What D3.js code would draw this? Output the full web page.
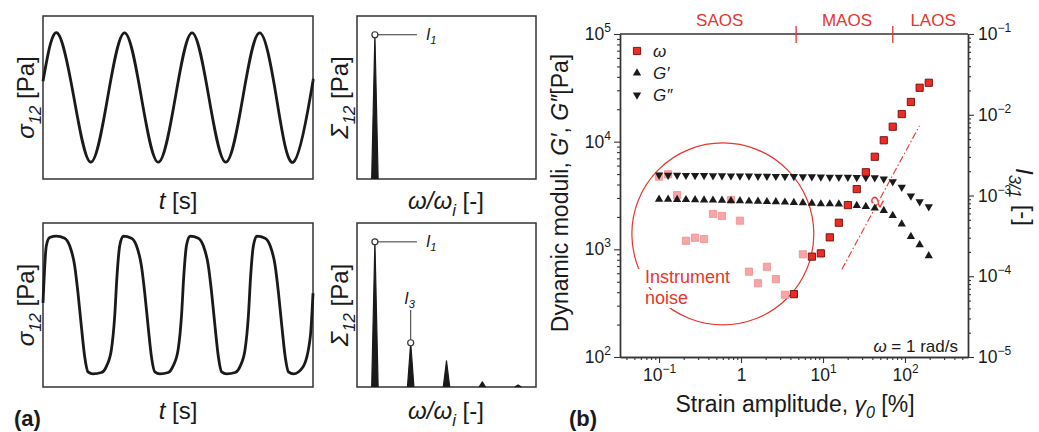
<!DOCTYPE html>
<html>
<head>
<meta charset="utf-8">
<script src="https://cdn.jsdelivr.net/npm/d3@7"></script>
<style>
  body { margin: 0; background: #fff; }
  svg { display: block; font-family: "Liberation Sans", Arial, Helvetica, sans-serif; }
</style>
</head>
<body>
<svg id="fig" width="1039" height="432"></svg>
<script>
// ---------- panel (a) data ----------
// stress signals, t in cycles, sigma normalised to the amplitude
const linWave = [
  [0, 0.25], [0.21, 1], [0.4625, 0], [0.715, -1], [0.9675, 0], [1.22, 1], [1.4725, 0], [1.725, -1],
  [1.98, 0], [2.23, 1], [2.4825, 0], [2.735, -1], [2.99, 0], [3.24, 1], [3.4925, 0], [3.745, -1],
  [3.9975, 0], [4.04, 0.26]
];
const nlWave = [
  [0, 0.03], [0.05, 0.86], [0.1, 0.98],
  [0.2, 1], [0.324, 0.97], [0.399, 0.86], [0.474, 0.57], [0.523, 0.18], [0.574, -0.31], [0.624, -0.75],
  [0.673, -0.97], [0.748, -1], [0.874, -0.98], [0.949, -0.89], [1.023, -0.65], [1.073, -0.16], [1.107, 0.42], [1.148, 0.86],
  [1.2, 1], [1.324, 0.97], [1.399, 0.86], [1.474, 0.56], [1.523, 0.17], [1.574, -0.32], [1.624, -0.76],
  [1.673, -0.97], [1.748, -1], [1.874, -0.98], [1.949, -0.88], [2.023, -0.64], [2.073, -0.15], [2.107, 0.43], [2.148, 0.87],
  [2.2, 1], [2.324, 0.97], [2.399, 0.86], [2.474, 0.57], [2.523, 0.18], [2.574, -0.31], [2.624, -0.75],
  [2.673, -0.97], [2.748, -1], [2.874, -0.98], [2.949, -0.89], [3.023, -0.65], [3.073, -0.16], [3.107, 0.42], [3.148, 0.86],
  [3.2, 1], [3.324, 0.97], [3.399, 0.86], [3.474, 0.57], [3.523, 0.18], [3.574, -0.31], [3.624, -0.75],
  [3.673, -0.97], [3.748, -1], [3.89, -0.9], [4.0, -0.46], [4.04, 0.17]
];
// Fourier spectra: harmonic order and relative intensity
const harmonicsLin = [1];
const intensityLin = [1.0];
const harmonicsNl = [1, 3, 5, 7, 9];
const intensityNl = [1.0, 0.305, 0.18, 0.035, 0.014];

// ---------- panel (b) data ----------
const strain = [0.1, 0.129, 0.166, 0.213, 0.275, 0.354, 0.455, 0.586, 0.754, 0.97, 1.25, 1.61, 2.07, 2.66, 3.43,
  4.41, 5.68, 7.31, 9.41, 12.1, 15.6, 20.1, 25.8, 33.3, 42.8, 55.1, 70.9, 91.3, 118, 151, 195];
const gPrime = [2920, 2910, 2900, 2890, 2880, 2870, 2860, 2850, 2830, 2820, 2800, 2790, 2770, 2760, 2740,
  2720, 2700, 2670, 2640, 2640, 2630, 2570, 2545, 2490, 2410, 2290, 2055, 1720, 1313, 1099, 869];
const gDouble = [4900, 4890, 4880, 4870, 4860, 4850, 4840, 4830, 4820, 4810, 4800, 4790, 4780, 4770, 4760,
  4750, 4740, 4720, 4700, 4690, 4680, 4670, 4660, 4650, 4620, 4510, 4255, 3775, 3135, 2775, 2490];
const i31 = [1.71e-3, 1.83e-3, 1.01e-3, 2.75e-4, 3.0e-4, 2.89e-4, 5.9e-4, 5.57e-4, 8.8e-4, 4.88e-4, 1.14e-4, 8.2e-5,
  1.31e-4, 9.2e-5, 5.9e-5, 6.0e-5, 1.87e-4, 1.75e-4, 1.92e-4, 3.03e-4, 4.6e-4, 7.6e-4, 1.2e-3, 1.94e-3,
  3.02e-3, 4.83e-3, 7.11e-3, 1.02e-2, 1.44e-2, 2.16e-2, 2.49e-2];
const i31Noise = [1, 1, 1, 1, 1, 1, 1, 1, 1, 1, 1, 1, 1, 1, 1, 0, 1, 0, 0, 0, 0, 0, 0, 0, 0, 0, 0, 0, 0, 0, 0];
const regionBounds = [4.7, 71];
const regionNames = ['SAOS', 'MAOS', 'LAOS'];
const regionLabelAt = [0.55, 19.6, 220];
const slopeLine = [[17, 1.22e-4], [150, 7.3e-3]];
const slopeLabelAt = [45.6, 8.4e-4];
const noiseCenter = [0.6, 1390];

// ---------- drawing ----------
const svg = d3.select('#fig');
const ink = '#1a1a1a';
const red = '#e8352e';

// text with italic / sub / superscript parts
function rich(sel, fs, parts) {
  let cur = 0;
  for (const p of parts) {
    const off = p.sub ? 0.28 * fs : p.sup ? -0.42 * fs : 0;
    const ts = sel.append('tspan').attr('dy', off - cur).text(p.t);
    cur = off;
    if (p.sub || p.sup) ts.attr('font-size', fs * 0.7);
    if (p.it) ts.attr('font-style', 'italic');
  }
  return sel;
}

// ===== panel (a) =====
const waveX = d3.scaleLinear().domain([0, 4.04]).range([43, 313]);
const specX = d3.scaleLinear().domain([0, 10]).range([357, 536]);

const rows = [
  { top: 16, bottom: 179, wave: linWave, yMax: 1.26, curve: d3.curveNatural, harm: harmonicsLin, amp: intensityLin, labelY: 209 },
  { top: 223, bottom: 387, wave: nlWave, yMax: 1.19, curve: d3.curveMonotoneX, harm: harmonicsNl, amp: intensityNl, labelY: 419 },
];

rows.forEach((row, k) => {
  const g = svg.append('g');
  const waveY = d3.scaleLinear().domain([-row.yMax, row.yMax]).range([row.bottom, row.top]);
  const specY = d3.scaleLinear().domain([0, 1.13]).range([row.bottom, row.top]);

  // boxes
  g.append('rect').attr('x', waveX.range()[0]).attr('y', row.top)
    .attr('width', waveX.range()[1] - waveX.range()[0]).attr('height', row.bottom - row.top)
    .attr('fill', 'none').attr('stroke', '#333').attr('stroke-width', 1.5);
  g.append('rect').attr('x', specX.range()[0]).attr('y', row.top)
    .attr('width', specX.range()[1] - specX.range()[0]).attr('height', row.bottom - row.top)
    .attr('fill', 'none').attr('stroke', '#333').attr('stroke-width', 1.5);

  // waveform
  const line = d3.line().x(d => waveX(d[0])).y(d => waveY(d[1])).curve(row.curve);
  g.append('path').datum(row.wave).attr('d', line)
    .attr('fill', 'none').attr('stroke', ink).attr('stroke-width', 2.8).attr('stroke-linejoin', 'round');

  // spectrum spikes
  const spike = d3.line().x(d => specX(d[0])).y(d => specY(d[1]));
  row.harm.forEach((h, i) => {
    g.append('path').datum([[h - 0.18, 0], [h, row.amp[i]], [h + 0.18, 0]])
      .attr('d', spike).attr('fill', ink).attr('stroke', ink).attr('stroke-width', 1.2).attr('stroke-linejoin', 'round');
  });

  // I1 annotation
  const x1 = specX(row.harm[0]), y1 = specY(row.amp[0]);
  g.append('line').attr('x1', x1 + 3).attr('x2', specX(3.35)).attr('y1', y1).attr('y2', y1)
    .attr('stroke', '#333').attr('stroke-width', 1);
  g.append('circle').attr('cx', x1).attr('cy', y1).attr('r', 3)
    .attr('fill', '#fff').attr('stroke', '#333').attr('stroke-width', 1.2);
  rich(g.append('text').attr('x', specX(3.85)).attr('y', y1 + 5).attr('font-size', 16).attr('fill', ink),
    16, [{ t: 'I', it: true }, { t: '1', sub: true, it: true }]);

  // I3 annotation (nonlinear row only)
  if (row.harm.length > 1) {
    const x3 = specX(row.harm[1]), y3 = specY(row.amp[1]);
    g.append('line').attr('x1', x3).attr('x2', x3).attr('y1', y3 - 3).attr('y2', specY(0.53))
      .attr('stroke', '#333').attr('stroke-width', 1);
    g.append('circle').attr('cx', x3).attr('cy', y3).attr('r', 3)
      .attr('fill', '#fff').attr('stroke', '#333').attr('stroke-width', 1.2);
    rich(g.append('text').attr('x', x3 - 1).attr('y', specY(0.575)).attr('text-anchor', 'middle')
      .attr('font-size', 16).attr('fill', ink), 16, [{ t: 'I', it: true }, { t: '3', sub: true, it: true }]);
  }

  // axis labels
  const cy = (row.top + row.bottom) / 2;
  rich(g.append('text').attr('transform', `translate(34,${cy}) rotate(-90)`).attr('text-anchor', 'middle')
    .attr('font-size', 24).attr('fill', ink), 24,
    [{ t: 'σ', it: true }, { t: '12', sub: true, it: true }, { t: ' [Pa]' }]);
  rich(g.append('text').attr('transform', `translate(348,${cy}) rotate(-90)`).attr('text-anchor', 'middle')
    .attr('font-size', 24).attr('fill', ink), 24,
    [{ t: 'Σ', it: true }, { t: '12', sub: true, it: true }, { t: ' [Pa]' }]);
  rich(g.append('text').attr('x', 178).attr('y', row.labelY).attr('text-anchor', 'middle')
    .attr('font-size', 24).attr('fill', ink), 24, [{ t: 't', it: true }, { t: ' [s]' }]);
  rich(g.append('text').attr('x', 446).attr('y', row.labelY).attr('text-anchor', 'middle')
    .attr('font-size', 24).attr('fill', ink), 24,
    [{ t: 'ω/ω', it: true }, { t: 'i', sub: true, it: true }, { t: ' [-]' }]);
});

svg.append('text').attr('x', 14).attr('y', 426).attr('font-size', 22).attr('font-weight', 'bold')
  .attr('fill', ink).text('(a)');
svg.append('text').attr('x', 569).attr('y', 426).attr('font-size', 22).attr('font-weight', 'bold')
  .attr('fill', ink).text('(b)');

// ===== panel (b) =====
const xB = d3.scaleLog().domain([0.0334, 587]).range([620, 968]);
const yB = d3.scaleLog().domain([1e2, 1e5]).range([357, 34]);
const yR = d3.scaleLog().domain([1e-5, 1e-1]).range([357, 34]);
const pb = svg.append('g');

function minorTicks(scale) {
  const [lo, hi] = scale.domain();
  const out = [];
  for (let e = Math.floor(Math.log10(lo)); e <= Math.ceil(Math.log10(hi)); e++) {
    for (let m = 2; m <= 9; m++) {
      const v = m * Math.pow(10, e);
      if (v > lo && v < hi) out.push(v);
    }
  }
  return out;
}
function majorTicks(scale) {
  const [lo, hi] = scale.domain();
  const out = [];
  for (let e = Math.ceil(Math.log10(lo) - 1e-9); e <= Math.floor(Math.log10(hi) + 1e-9); e++) out.push(Math.pow(10, e));
  return out;
}
function powLabel(text, v) {
  const e = Math.round(Math.log10(v));
  text.text(null);
  if (e === 0) { text.append('tspan').text('1'); return; }
  text.append('tspan').text('10');
  text.append('tspan').attr('dy', -8).attr('font-size', 12).text(String(e).replace('-', '\u2212'));
}
function styleAxis(g) {
  g.attr('font-family', null).attr('font-size', 17.5);
  g.select('.domain').attr('stroke', '#333').attr('stroke-width', 1.4);
  g.selectAll('.tick line').attr('stroke', '#333').attr('stroke-width', 1.1);
  g.selectAll('.tick text').attr('fill', ink);
}
function drawAxis(axisFn, scale, transform, pad) {
  pb.append('g').attr('transform', transform)
    .call(axisFn(scale).tickValues(minorTicks(scale)).tickSize(3).tickSizeOuter(0).tickFormat(''))
    .call(styleAxis);
  const g = pb.append('g').attr('transform', transform)
    .call(axisFn(scale).tickValues(majorTicks(scale)).tickSize(6).tickSizeOuter(0).tickPadding(pad))
    .call(styleAxis);
  g.selectAll('.tick text').each(function (d) { powLabel(d3.select(this), d); });
  return g;
}
drawAxis(d3.axisBottom, xB, `translate(0,${yB.range()[0]})`, 6);
drawAxis(d3.axisLeft, yB, `translate(${xB.range()[0]},0)`, 3);
drawAxis(d3.axisRight, yR, `translate(${xB.range()[1]},0)`, 4);
pb.append('line').attr('x1', xB.range()[0]).attr('x2', xB.range()[1])
  .attr('y1', yB.range()[1]).attr('y2', yB.range()[1]).attr('stroke', '#333').attr('stroke-width', 1.4);

// SAOS / MAOS / LAOS
regionBounds.forEach(b => {
  pb.append('line').attr('x1', xB(b)).attr('x2', xB(b)).attr('y1', yB.range()[1] - 8).attr('y2', yB.range()[1] + 9)
    .attr('stroke', red).attr('stroke-width', 1.3);
});
regionNames.forEach((n, i) => {
  pb.append('text').attr('x', xB(regionLabelAt[i])).attr('y', 26).attr('text-anchor', 'middle')
    .attr('font-size', 17).attr('fill', red).text(n);
});

// instrument noise circle
pb.append('circle').attr('cx', xB(noiseCenter[0])).attr('cy', yB(noiseCenter[1])).attr('r', 91)
  .attr('fill', 'none').attr('stroke', red).attr('stroke-width', 1.2);
[['Instrument', 283], ['noise', 304]].forEach(([s, y]) => {
  const t = pb.append('text').attr('x', 645).attr('y', y).attr('font-size', 18).attr('fill', red).text(s);
  const bb = t.node().getBBox();
  pb.insert('rect', () => t.node()).attr('x', bb.x - 8).attr('y', bb.y + 2).attr('width', bb.width + 10)
    .attr('height', bb.height - 2).attr('fill', '#fff');
});

// slope-2 guide
pb.append('path').datum(slopeLine)
  .attr('d', d3.line().x(d => xB(d[0])).y(d => yR(d[1])))
  .attr('stroke', red).attr('stroke-width', 1.1).attr('fill', 'none').attr('stroke-dasharray', '7,2.5,1.5,2.5');
pb.append('text').attr('transform', `translate(${xB(slopeLabelAt[0])},${yR(slopeLabelAt[1])}) rotate(-62)`)
  .attr('text-anchor', 'middle').attr('dy', '0.35em').attr('font-size', 17).attr('fill', red).text('2');

// markers
const sq = d3.symbol(d3.symbolSquare, 52)();
const tri = d3.symbol(d3.symbolTriangle, 30)();
const idx = d3.range(strain.length);

pb.append('g').selectAll('path').data(idx.filter(i => i31Noise[i])).join('path')
  .attr('d', sq).attr('transform', i => `translate(${xB(strain[i])},${yR(i31[i])})`)
  .attr('fill', '#f6a6a6').attr('stroke', '#ee9090').attr('stroke-width', 0.8);

pb.append('g').selectAll('path').data(idx).join('path')
  .attr('d', tri).attr('transform', i => `translate(${xB(strain[i])},${yB(gDouble[i])}) rotate(180)`)
  .attr('fill', ink);
pb.append('g').selectAll('path').data(idx).join('path')
  .attr('d', tri).attr('transform', i => `translate(${xB(strain[i])},${yB(gPrime[i])})`)
  .attr('fill', ink);

pb.append('g').selectAll('path').data(idx.filter(i => !i31Noise[i])).join('path')
  .attr('d', sq).attr('transform', i => `translate(${xB(strain[i])},${yR(i31[i])})`)
  .attr('fill', '#ee2b22').attr('stroke', '#6b0d0d').attr('stroke-width', 0.9);

// legend
const leg = pb.append('g').attr('transform', 'translate(637,51)');
leg.append('path').attr('d', sq).attr('fill', '#ee2b22').attr('stroke', '#6b0d0d').attr('stroke-width', 0.9);
leg.append('path').attr('d', tri).attr('transform', 'translate(0,22)').attr('fill', ink);
leg.append('path').attr('d', tri).attr('transform', 'translate(0,44) rotate(180)').attr('fill', ink);
[[[{ t: 'ω', it: true }], 0], [[{ t: 'G′', it: true }], 22], [[{ t: 'G″', it: true }], 44]].forEach(([parts, dy]) => {
  rich(leg.append('text').attr('x', 16).attr('y', dy + 6).attr('font-size', 17).attr('fill', ink), 17, parts);
});

// condition
rich(pb.append('text').attr('x', 958).attr('y', 352).attr('text-anchor', 'end').attr('font-size', 17).attr('fill', ink),
  17, [{ t: 'ω', it: true }, { t: ' = 1 rad/s' }]);

// axis titles
rich(pb.append('text').attr('transform', 'translate(568,193) rotate(-90)').attr('text-anchor', 'middle')
  .attr('font-size', 23).attr('fill', ink), 23,
  [{ t: 'Dynamic moduli, ' }, { t: 'G′', it: true }, { t: ', ' }, { t: 'G″', it: true }, { t: '[Pa]' }]);
rich(pb.append('text').attr('x', 795).attr('y', 412).attr('text-anchor', 'middle')
  .attr('font-size', 23).attr('fill', ink), 23,
  [{ t: 'Strain amplitude, ' }, { t: 'γ', it: true }, { t: '0', sub: true, it: true }, { t: ' [%]' }]);
rich(pb.append('text').attr('transform', 'translate(1016,197) rotate(90)').attr('text-anchor', 'middle')
  .attr('font-size', 24).attr('fill', ink), 24,
  [{ t: 'I', it: true }, { t: '3/1', sub: true, it: true }, { t: ' [-]' }]);
</script>
</body>
</html>
